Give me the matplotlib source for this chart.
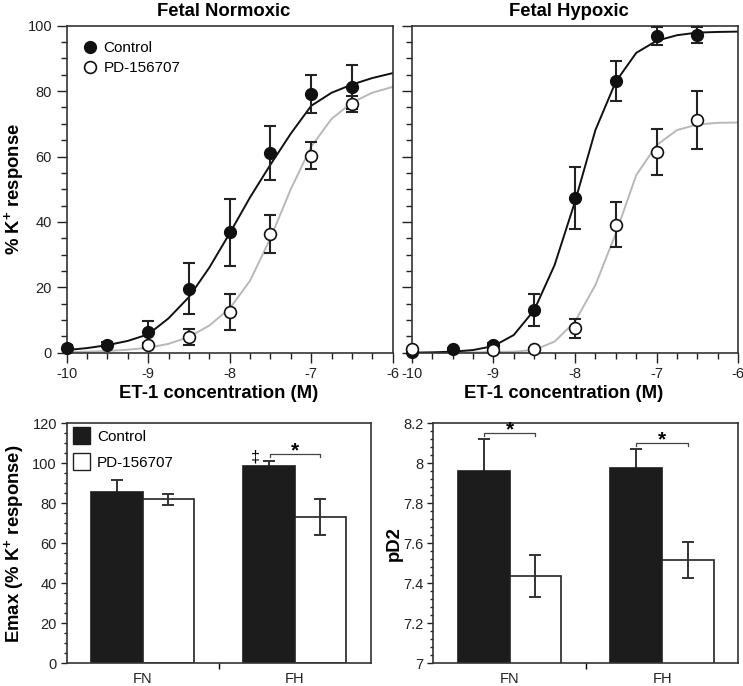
import numpy as np
import matplotlib
matplotlib.use("Agg")
import matplotlib.pyplot as plt
from matplotlib.patches import Patch
from matplotlib.lines import Line2D
from matplotlib.ticker import MultipleLocator

plt.rcParams['font.family'] = ['Liberation Sans', 'DejaVu Sans']
plt.rcParams['axes.unicode_minus'] = False
plt.rcParams['mathtext.fontset'] = 'custom'
plt.rcParams['mathtext.rm'] = 'Liberation Sans:bold'
plt.rcParams['mathtext.bf'] = 'Liberation Sans:bold'

# concentration-response points (log M)
log_conc = [-10, -9.5, -9, -8.5, -8, -7.5, -7, -6.5]

fn_ctrl = [1.5, 2.4, 6.4, 19.6, 36.8, 61.1, 79.0, 81.3]
fn_ctrl_err = [0.8, 0.8, 3.4, 7.7, 10.3, 8.3, 5.8, 6.8]
fn_pd_x = [-9, -8.5, -8, -7.5, -7, -6.5]
fn_pd = [2.3, 4.7, 12.5, 36.2, 60.3, 76.1]
fn_pd_err = [0.8, 2.5, 5.5, 5.8, 4.2, 2.5]

fh_ctrl = [0.3, 1.0, 2.3, 13.0, 47.2, 83.1, 96.9, 97.1]
fh_ctrl_err = [0.3, 0.5, 0.8, 4.8, 9.5, 6.0, 2.7, 2.5]
fh_pd_x = [-10, -9, -8.5, -8, -7.5, -7, -6.5]
fh_pd = [1.0, 0.8, 1.0, 7.4, 39.2, 61.4, 71.1]
fh_pd_err = [0.3, 0.3, 0.3, 3.0, 7.0, 7.1, 8.9]

# fitted curves, read at 0.25 log steps
curve_x = [-10, -9.75, -9.5, -9.25, -9, -8.75, -8.5, -8.25, -8,
           -7.75, -7.5, -7.25, -7, -6.75, -6.5, -6.25, -6]
fn_ctrl_fit = [0.8, 1.4, 2.3, 3.6, 5.6, 10.5, 17.0, 26.0, 36.5,
               47.5, 57.5, 67.0, 75.5, 79.5, 82.0, 84.0, 85.5]
fn_pd_fit = [0.2, 0.3, 0.5, 0.9, 1.5, 2.7, 4.8, 8.3, 13.5,
             22.0, 35.0, 50.0, 63.0, 71.5, 76.5, 79.5, 81.3]
fh_ctrl_fit = [0.0, 0.1, 0.3, 0.8, 2.0, 5.4, 13.0, 26.8, 46.2,
               68.1, 82.9, 91.7, 95.4, 97.1, 97.9, 98.1, 98.2]
fh_pd_fit = [0.0, 0.0, 0.1, 0.1, 0.2, 0.3, 0.8, 3.4, 9.5,
             20.7, 36.5, 54.3, 63.5, 68.1, 69.8, 70.3, 70.4]

# summary bars
groups = ['FN', 'FH']
emax_ctrl = [85.7, 98.8]
emax_ctrl_err = [6.0, 2.4]
emax_pd = [81.9, 73.0]
emax_pd_err = [2.7, 9.0]
pd2_ctrl = [7.962, 7.975]
pd2_ctrl_err = [0.16, 0.095]
pd2_pd = [7.438, 7.517]
pd2_pd_err = [0.105, 0.091]

fig = plt.figure(figsize=(7.43, 6.86), dpi=100)
ax1 = fig.add_axes([0.0897, 0.4859, 0.4388, 0.4766])
ax2 = fig.add_axes([0.5541, 0.4859, 0.4396, 0.4766])
ax3 = fig.add_axes([0.0897, 0.0331, 0.4091, 0.3499])
ax4 = fig.add_axes([0.5832, 0.0331, 0.4105, 0.3499])

TICK_FS = 10.5
LABEL_FS = 13.3


def curve_panel(ax, title, cx, cy, cerr, px, py, perr, cfit, pfit, show_y):
    ax.plot(curve_x, pfit, color='#b8b8b8', lw=1.4, zorder=2)
    ax.plot(curve_x, cfit, color='#111111', lw=1.4, zorder=2)
    ax.errorbar(cx, cy, yerr=cerr, fmt='none', ecolor='#222222',
                elinewidth=1.5, capsize=4.5, capthick=1.5, zorder=3)
    ax.errorbar(px, py, yerr=perr, fmt='none', ecolor='#222222',
                elinewidth=1.5, capsize=4.5, capthick=1.5, zorder=3)
    ax.plot(cx, cy, 'o', ms=8.5, mfc='#111111', mec='#111111', zorder=4,
            clip_on=False)
    ax.plot(px, py, 'o', ms=8.5, mfc='white', mec='#111111', mew=1.2, zorder=5,
            clip_on=False)
    ax.set_xlim(-10, -6)
    ax.set_ylim(0, 100)
    ax.xaxis.set_major_locator(MultipleLocator(1))
    ax.xaxis.set_minor_locator(MultipleLocator(0.25))
    ax.yaxis.set_major_locator(MultipleLocator(20))
    ax.yaxis.set_minor_locator(MultipleLocator(5))
    ax.tick_params(which='major', length=7, width=1, direction='out',
                   labelsize=TICK_FS, colors='#222222')
    ax.tick_params(which='minor', length=4, width=1, direction='out',
                   colors='#222222')
    if not show_y:
        ax.tick_params(axis='y', labelleft=False)
    for s in ax.spines.values():
        s.set_linewidth(1.2)
        s.set_color('#333333')
    ax.set_title(title, fontsize=LABEL_FS, fontweight='bold', pad=7, x=0.482)
    ax.set_xlabel('ET-1 concentration (M)', fontsize=LABEL_FS, fontweight='bold')
    ax.xaxis.set_label_coords(0.465, -0.1)


curve_panel(ax1, 'Fetal Normoxic', log_conc, fn_ctrl, fn_ctrl_err,
            fn_pd_x, fn_pd, fn_pd_err, fn_ctrl_fit, fn_pd_fit, True)
curve_panel(ax2, 'Fetal Hypoxic', log_conc, fh_ctrl, fh_ctrl_err,
            fh_pd_x, fh_pd, fh_pd_err, fh_ctrl_fit, fh_pd_fit, False)
ax1.set_ylabel(r'% K$^{+}$ response', fontsize=LABEL_FS, fontweight='bold')
ax1.yaxis.set_label_coords(-0.125, 0.5)

leg_handles = [
    Line2D([], [], ls='none', marker='o', ms=8.5, mfc='#111111', mec='#111111'),
    Line2D([], [], ls='none', marker='o', ms=8.5, mfc='white', mec='#111111', mew=1.2),
]
ax1.legend(leg_handles, ['Control', 'PD-156707'], loc='upper left',
           bbox_to_anchor=(0.0, 0.995), frameon=False, fontsize=11,
           handletextpad=0.3, labelspacing=0.4, handlelength=1.2)


def bar_panel(ax, ctrl, ctrl_err, pd, pd_err, ylim, major, minor):
    x = np.arange(len(groups))
    w = 0.339
    ax.bar(x - w / 2, ctrl, w, color='#1c1c1c', edgecolor='#1c1c1c', lw=1.2,
           zorder=2)
    ax.bar(x + w / 2, pd, w, color='white', edgecolor='#222222', lw=1.2, zorder=2)
    # control error bars sit behind the black bars, so only the upper half shows
    ax.errorbar(x - w / 2, ctrl, yerr=ctrl_err, fmt='none', ecolor='#333333',
                elinewidth=1.4, capsize=4.5, capthick=1.4, zorder=1)
    ax.errorbar(x + w / 2, pd, yerr=pd_err, fmt='none', ecolor='#333333',
                elinewidth=1.4, capsize=4.5, capthick=1.4, zorder=3)
    ax.set_xlim(-0.5, 1.5)
    ax.set_ylim(*ylim)
    ax.set_xticks(x)
    ax.set_xticklabels(groups)
    ax.set_xticks([0.5], minor=True)
    ax.tick_params(axis='x', which='major', length=0, labelsize=TICK_FS, pad=6,
                   colors='#222222')
    ax.tick_params(axis='x', which='minor', length=4, width=1, direction='out')
    ax.yaxis.set_major_locator(MultipleLocator(major))
    ax.yaxis.set_minor_locator(MultipleLocator(minor))
    ax.tick_params(axis='y', which='major', length=4, width=1, labelsize=TICK_FS,
                   colors='#222222', pad=3)
    ax.tick_params(axis='y', which='minor', length=2.3, width=1, colors='#222222')
    for s in ax.spines.values():
        s.set_linewidth(1.2)
        s.set_color('#333333')
    return x, w


def bracket(ax, x0, x1, y, drop, star_y, fs=15):
    ax.plot([x0, x0, x1, x1], [y - drop, y, y, y - drop], color='#444444', lw=0.9)
    ax.text((x0 + x1) / 2, star_y, '*', ha='center', va='center', fontsize=fs,
            fontweight='bold')


x, w = bar_panel(ax3, emax_ctrl, emax_ctrl_err, emax_pd, emax_pd_err, (0, 120), 20, 5)
ax3.set_ylabel(r'Emax (% K$^{+}$ response)', fontsize=LABEL_FS, fontweight='bold')
ax3.yaxis.set_label_coords(-0.134, 0.5)
bracket(ax3, 1 - w / 2 + 0.01, 1 + w / 2, 104.6, 1.6, 106.3)
ax3.text(0.745, 103.0, '\u2021', ha='center', va='center', fontsize=11.5)
ax3.legend([Patch(facecolor='#1c1c1c', edgecolor='#1c1c1c'),
            Patch(facecolor='white', edgecolor='#222222')],
           ['Control', 'PD-156707'], loc='upper left', bbox_to_anchor=(-0.025, 1.04),
           frameon=False, fontsize=11, handlelength=1.1, handleheight=1.3,
           handletextpad=0.5, labelspacing=0.6)

x, w = bar_panel(ax4, pd2_ctrl, pd2_ctrl_err, pd2_pd, pd2_pd_err, (7, 8.2), 0.2, 0.04)
ax4.set_yticks([7, 7.2, 7.4, 7.6, 7.8, 8, 8.2])
ax4.set_yticklabels(['7', '7.2', '7.4', '7.6', '7.8', '8', '8.2'])
ax4.set_ylabel('pD2', fontsize=LABEL_FS, fontweight='bold')
ax4.yaxis.set_label_coords(-0.1, 0.5)
bracket(ax4, -w / 2, w / 2, 8.15, 0.014, 8.168)
bracket(ax4, 1 - w / 2, 1 + w / 2, 8.1, 0.014, 8.118)

fig.savefig('out.png', dpi=100)
